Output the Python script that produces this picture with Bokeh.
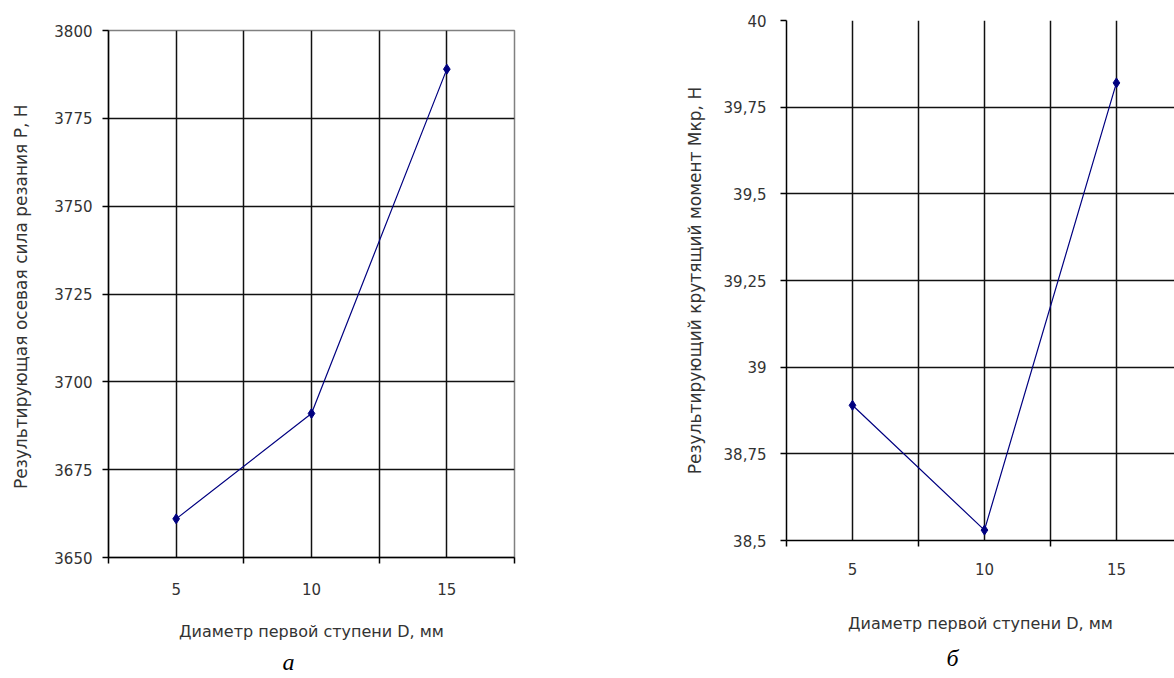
from bokeh.plotting import figure
from bokeh.layouts import row, column
from bokeh.models import FixedTicker, Title, Grid, Range1d, Spacer
from bokeh.embed import file_html
from bokeh.resources import INLINE

# ---- data ----
d_mm = [5, 10, 15]
axial_force = [3661, 3691, 3789]          # chart a
torque = [38.89, 38.53, 39.82]            # chart б
x_ticks = [5, 10, 15]
x_bounds = [2.5, 7.5, 12.5, 17.5]
y1_ticks = [3650, 3675, 3700, 3725, 3750, 3775, 3800]
y2_ticks = [38.5, 38.75, 39, 39.25, 39.5, 39.75, 40]
y2_tick_labels = ["38,5", "38,75", "39", "39,25", "39,5", "39,75", "40"]
x_label = "Диаметр первой ступени D, мм"
y1_label = "Результирующая осевая сила  резания Р, Н"
y2_label = "Результирующий крутящий момент Мкр, Н"
captions = ["а", "б"]

FONT = "DejaVu Sans"
TXT = "#333333"
LINE = "#000080"
GRID = "#111111"


def style(p, yticks, ylabel, xstand, ystand, ylab_stand, xlab_stand, overrides=None):
    p.background_fill_color = "white"
    p.border_fill_color = "white"
    xa = p.xaxis[0]
    xa.ticker = FixedTicker(ticks=x_ticks, minor_ticks=x_bounds)
    xa.major_tick_out = 6
    xa.major_tick_in = 0
    xa.major_tick_line_color = None
    xa.minor_tick_out = 6
    xa.minor_tick_in = 0
    xa.minor_tick_line_color = "black"
    xa.minor_tick_line_width = 1.5
    xa.axis_line_color = "black"
    xa.axis_line_width = 1.5
    xa.major_label_text_font = FONT
    xa.major_label_text_font_size = "15px"
    xa.major_label_text_color = TXT
    xa.major_label_standoff = xstand
    xa.axis_label = x_label
    xa.axis_label_text_font = FONT
    xa.axis_label_text_font_size = "16px"
    xa.axis_label_text_font_style = "normal"
    xa.axis_label_text_color = TXT
    xa.axis_label_standoff = xlab_stand

    ya = p.yaxis[0]
    ya.ticker = FixedTicker(ticks=yticks, minor_ticks=[])
    ya.major_tick_out = 6
    ya.major_tick_in = 0
    ya.major_tick_line_color = "black"
    ya.major_tick_line_width = 1.5
    ya.axis_line_color = "black"
    ya.axis_line_width = 1.5
    ya.major_label_text_font = FONT
    ya.major_label_text_font_size = "15px"
    ya.major_label_text_color = TXT
    ya.major_label_standoff = ystand
    ya.axis_label = ylabel
    ya.axis_label_text_font = FONT
    ya.axis_label_text_font_size = "17px"
    ya.axis_label_text_font_style = "normal"
    ya.axis_label_text_color = TXT
    ya.axis_label_standoff = ylab_stand
    if overrides:
        ya.major_label_overrides = overrides

    p.xgrid.ticker = FixedTicker(ticks=x_ticks, minor_ticks=[7.5, 12.5])
    p.xgrid.grid_line_color = GRID
    p.xgrid.grid_line_width = 1.5
    p.xgrid.minor_grid_line_color = GRID
    p.xgrid.minor_grid_line_width = 1.5
    p.ygrid.ticker = FixedTicker(ticks=yticks[1:-1], minor_ticks=[])
    p.ygrid.grid_line_color = GRID
    p.ygrid.grid_line_width = 1.5


def add_caption(p, cap, cap_offset, stand):
    p.add_layout(Title(text=cap, align="left", offset=cap_offset,
                       text_font="Liberation Serif", text_font_size="24px",
                       text_font_style="italic", text_color="black",
                       standoff=stand), "below")


# ---- chart а ----
p1 = figure(width=640, height=668, x_range=Range1d(2.5, 17.5),
            y_range=Range1d(y1_ticks[0], y1_ticks[-1]),
            output_backend="svg", toolbar_location=None,
            min_border_left=108, min_border_right=126,
            min_border_top=20, min_border_bottom=121)
p1.outline_line_color = "#808080"
p1.outline_line_width = 1.5
style(p1, y1_ticks, y1_label, 19, 10, 20, 24)
p1.line(d_mm, axial_force, line_color=LINE, line_width=1.2)
p1.scatter(d_mm, axial_force, marker="diamond", size=10, color=LINE)
add_caption(p1, captions[0], 174, 6)

# ---- chart б ----
p2 = figure(width=534, height=678, x_range=Range1d(2.5, 17.2),
            y_range=Range1d(y2_ticks[0], y2_ticks[-1]),
            output_backend="svg", toolbar_location=None,
            min_border_left=146, min_border_right=0,
            min_border_top=20, min_border_bottom=138)
p2.outline_line_color = None
style(p2, y2_ticks, y2_label, 16, 14, 16, 36, dict(zip(y2_ticks, y2_tick_labels)))
p2.add_layout(Grid(dimension=1, ticker=FixedTicker(ticks=[y2_ticks[-1]], minor_ticks=[]),
                   grid_line_color="#808080", grid_line_width=1.5))
p2.line(d_mm, torque, line_color=LINE, line_width=1.2)
p2.scatter(d_mm, torque, marker="diamond", size=10, color=LINE)
add_caption(p2, captions[1], 160, 15)

layout = row(column(Spacer(height=10), p1, spacing=0), p2, spacing=0)
open("out.html", "w").write(file_html(layout, INLINE))
